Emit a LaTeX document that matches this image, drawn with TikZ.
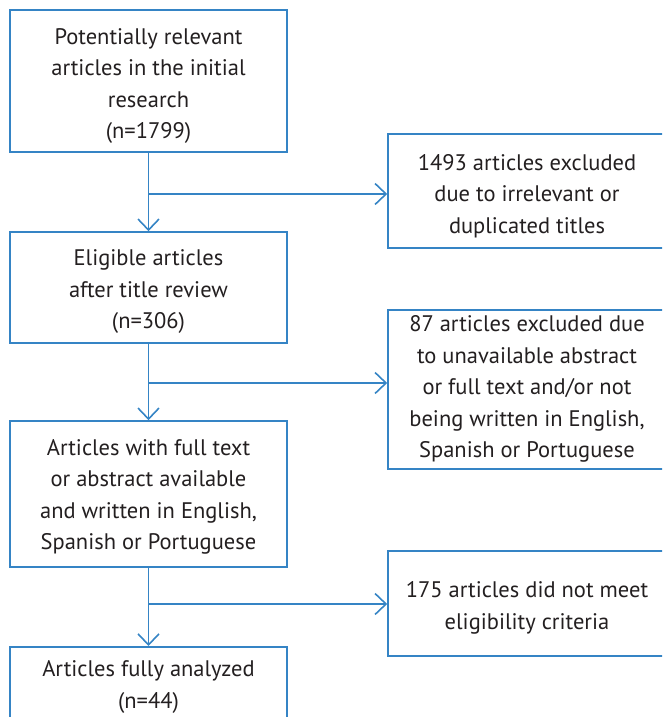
\documentclass[tikz,border=0pt]{standalone}
\usepackage{fontspec}
\setmainfont{PT Sans}
\usetikzlibrary{arrows.meta,calc}
\definecolor{lineblue}{HTML}{3584C5}
\definecolor{txt}{HTML}{231F20}
\tikzset{
  box/.style={draw=lineblue, line width=1.6pt, inner sep=0pt},
  lbl/.style={text=txt, align=center, inner sep=0pt,
    font=\fontsize{22.5}{31.5}\selectfont},
  arr/.style={draw=lineblue, line width=1.6pt,
    -{Straight Barb[length=11pt,width=21pt,line width=1.6pt]}}
}
\begin{document}
\begin{tikzpicture}[x=1pt,y=-1pt]
\useasboundingbox (0,0) rectangle (662,717);
\clip (0,0) rectangle (662,717);
% left column
\node[box, minimum width=277pt, minimum height=142pt] (b1) at (148.5,81) {};
\node[lbl] (b1t) at (148.5,86)
  {Potentially relevant\\articles in the initial\\research\\(n=1799)};
\node[box, minimum width=277pt, minimum height=111pt] (b2) at (148.5,287.5) {};
\node[lbl] (b2t) at (148.5,292)
  {Eligible articles\\after title review\\(n=306)};
\node[box, minimum width=277pt, minimum height=146pt] (b3) at (148.5,494) {};
\node[lbl] (b3t) at (148.5,497)
  {Articles with full text\\or abstract available\\and written in English,\\Spanish or Portuguese};
\node[box, minimum width=277pt, minimum height=120pt, anchor=north] (b4) at (148.5,646) {};
\node[lbl] (b4t) at (148.5,687)
  {Articles fully analyzed\\(n=44)};
% right column
\node[box, minimum width=280pt, minimum height=114pt] (r1) at (528,191) {};
\node[lbl] (r1t) at (527,196)
  {1493 articles excluded\\due to irrelevant or\\duplicated titles};
\node[box, minimum width=280pt, minimum height=159pt] (r2) at (528,389.5) {};
\node[lbl] (r2t) at (527,389)
  {87 articles excluded due\\to unavailable abstract\\or full text and/or not\\being written in English,\\Spanish or Portuguese};
\node[box, minimum width=280pt, minimum height=105pt] (r3) at (528,603.5) {};
\node[lbl] (r3t) at (527,608)
  {175 articles did not meet\\eligibility criteria};
% connectors
\coordinate (j1) at (149,194);
\coordinate (j2) at (149,383);
\coordinate (j3) at (149,604);
\draw[arr] (b1.south) -- (b2.north);
\draw[arr] (b2.south) -- (b3.north);
\draw[arr] (b3.south) -- (b4.north);
\draw[arr] (j1) -- (r1.west |- j1);
\draw[arr] (j2) -- (r2.west |- j2);
\draw[arr] (j3) -- (r3.west |- j3);
\end{tikzpicture}
\end{document}
